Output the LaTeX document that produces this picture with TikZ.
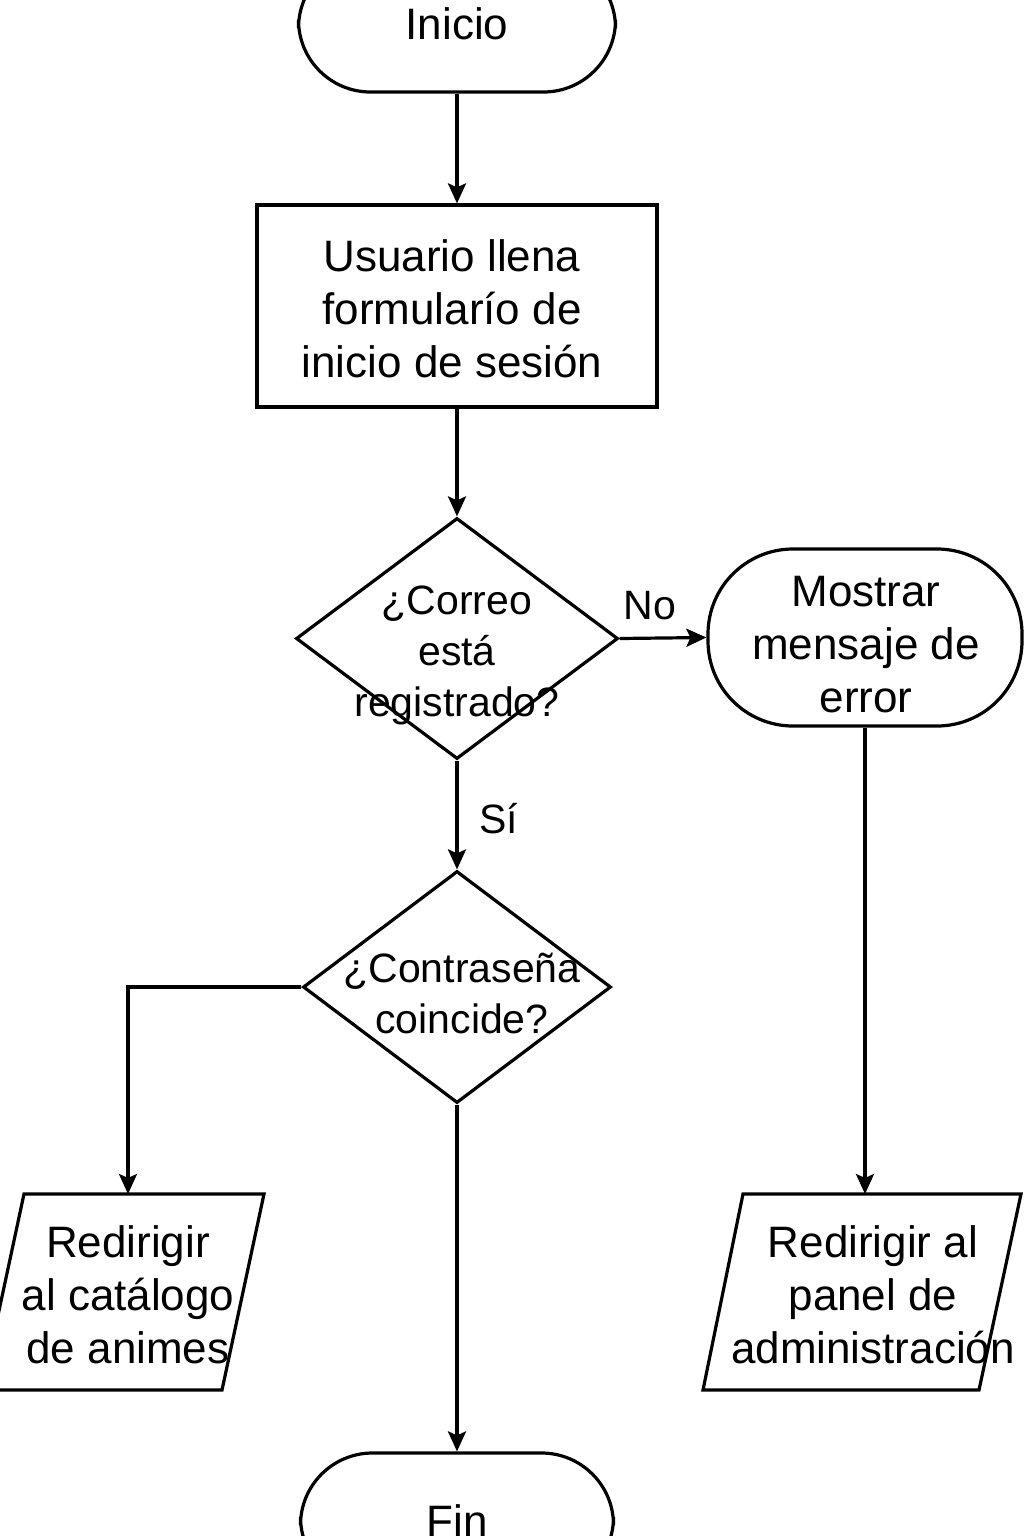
\documentclass[tikz,border=0pt]{standalone}
\usepackage{fontspec}
\setmainfont{Liberation Sans}
\usetikzlibrary{arrows.meta,shapes.geometric}
\begin{document}
\begin{tikzpicture}[x=1pt,y=-1pt,
  line width=3.2pt,
  big/.style={font=\fontsize{44}{53}\selectfont, align=center},
  small/.style={font=\fontsize{41}{51}\selectfont, align=center},
  term/.style={draw, rectangle, rounded corners=72pt, minimum width=317pt, minimum height=136pt, inner sep=0pt},
  dia/.style={draw, diamond, inner sep=0pt},
  arr/.style={-{Stealth[length=20pt,width=18pt,inset=4pt]}}
]
\useasboundingbox (0,0) rectangle (1024,1536);
% shapes
\node[term, big] (inicio) at (457,24) {Inicio};
\node[draw, rectangle, minimum width=400pt, minimum height=202pt, inner sep=0pt] (form) at (457,306) {};
\node[big] (formt) at (452,309) {Usuario llena\\formularío de\\inicio de sesión};
\node[dia, minimum width=322pt, minimum height=241pt] (d1) at (457,638.5) {};
\node[small] (d1t) at (457,655) {¿Correo\\está\\registrado?};
\node[term, minimum width=314pt, minimum height=177pt, rounded corners=85pt] (err) at (865,637.5) {};
\node[big] (errt) at (866,645) {Mostrar\\mensaje de\\error};
\node[dia, minimum width=308pt, minimum height=232pt] (d2) at (457,987) {};
\node[small] (d2t) at (462,993) {¿Contraseña\\coincide?};
\draw (24,1194) -- (264,1194) -- (222,1390) -- (-18,1390) -- cycle;
\node[big] (cat) at (128,1295) {Redirigir\\al catálogo\\de animes};
\coordinate (catTop) at (128,1194);
\draw (743,1194) -- (1021,1194) -- (979,1390) -- (703,1390) -- cycle;
\node[big] (adm) at (873,1295) {Redirigir al\\panel de\\administración};
\coordinate (admTop) at (866,1194);
\node[term, big, minimum width=313pt] (fin) at (457,1521) {Fin};
% labels
\node[small] (no) at (650,606) {No};
\node[small] (si) at (499,819) {Sí};
% connectors
\draw[arr] (inicio.south) -- (form.north);
\draw[arr] (form.south) -- (d1.north);
\draw[arr] (d1.east) -- (err.west);
\draw[arr] (d1.south) -- (d2.north);
\draw[arr] (d2.west) -| (catTop);
\draw[arr] (d2.south) -- (fin.north);
\draw[arr] (err.south) -- (err.south |- admTop);
\end{tikzpicture}
\end{document}
